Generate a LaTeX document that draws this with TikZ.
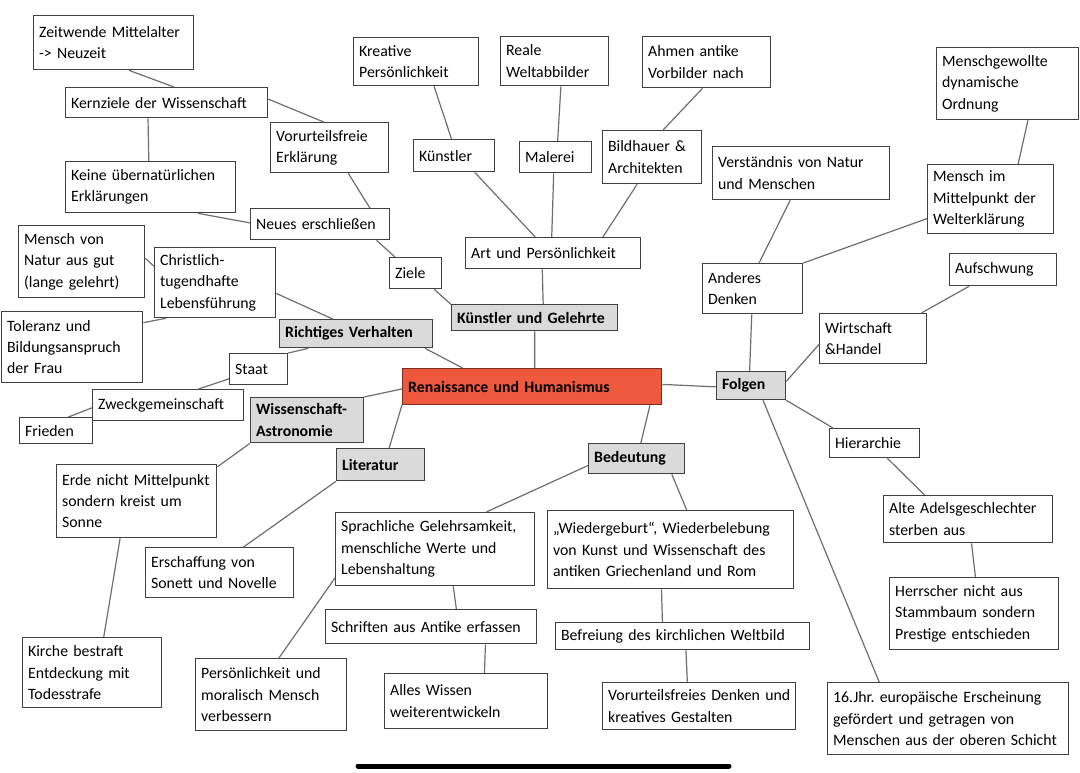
\documentclass[tikz,border=0pt]{standalone}
\usepackage{fontspec}
\setmainfont{Carlito}
\frenchspacing

\definecolor{boxline}{RGB}{64,64,64}
\definecolor{linkgray}{RGB}{110,110,110}
\definecolor{topicgray}{RGB}{218,218,218}
\definecolor{corered}{RGB}{238,88,60}
\definecolor{corerim}{RGB}{120,45,30}

\tikzset{
  idea/.style={draw=boxline, line width=1.3pt, fill=white, anchor=north west,
    inner xsep=0pt, inner ysep=0pt, font=\fontsize{15.8}{21.4}\selectfont,
    execute at begin node={\leftskip=5.5pt\hyphenpenalty=10000\frenchspacing\relax}},
  topic/.style={idea, fill=topicgray, font=\fontsize{15.8}{21.4}\selectfont\bfseries},
  core/.style={idea, fill=corered, draw=corerim, font=\fontsize{15.8}{21.4}\selectfont\bfseries},
  sz/.style 2 args={minimum width=#1pt, minimum height=#2pt, text width=#1pt},
  link/.style={draw=linkgray, line width=1.2pt}
}

\begin{document}
\begin{tikzpicture}[x=1pt,y=-1pt]

\fill[white] (0,0) rectangle (1080,772);

% Mitte
\node[core, sz={259}{36}] (renai) at (402,368) {Renaissance und Humanismus};

% Kuenstler und Gelehrte
\node[topic, sz={166}{26}] (kuenstgel) at (451,304) {Künstler und Gelehrte};
\node[idea, sz={175}{31}] (art) at (465,237) {Art und Persönlichkeit};
\node[idea, sz={81}{32}] (kuenstler) at (413,139) {Künstler};
\node[idea, sz={72}{31}] (malerei) at (519,141) {Malerei};
\node[idea, sz={99}{53}] (bildhauer) at (602,130) {Bildhauer \&\\Architekten};
\node[idea, sz={125}{48}] (kreativ) at (353,37) {Kreative\\Persönlichkeit};
\node[idea, sz={108}{49}] (reale) at (500,36) {Reale\\Weltabbilder};
\node[idea, sz={128}{51}] (ahmen) at (642,36) {Ahmen antike\\Vorbilder nach};
\node[idea, sz={52}{31}] (ziele) at (389,257) {Ziele};
\node[idea, sz={139}{31}] (neues) at (250,208) {Neues erschließen};
\node[idea, sz={118}{50}] (vorurt) at (270,122) {Vorurteilsfreie\\Erklärung};
\node[idea, sz={170}{51}] (keine) at (65,161) {Keine übernatürlichen\\Erklärungen};
\node[idea, sz={202}{30}] (kern) at (65,87) {Kernziele der Wissenschaft};
\node[idea, sz={160}{54}] (zeit) at (33,15) {Zeitwende Mittelalter\\-> Neuzeit};

% Richtiges Verhalten
\node[topic, sz={153}{28}] (richtig) at (279,319) {Richtiges Verhalten};
\node[idea, sz={121}{70}] (christ) at (154,247) {Christlich-\\tugendhafte\\Lebensführung};
\node[idea, sz={126}{72}] (natur) at (18,225) {Mensch von\\Natur aus gut\\(lange gelehrt)};
\node[idea, sz={141}{71}] (toleranz) at (1,311) {Toleranz und\\Bildungsanspruch\\der Frau};
\node[idea, sz={58}{31}] (staat) at (229,353) {Staat};
\node[idea, sz={151}{31}] (zweck) at (92,389) {Zweckgemeinschaft};
\node[idea, sz={73}{26}] (frieden) at (19,417) {Frieden};

% Wissenschaft und Literatur
\node[topic, sz={113}{45}] (wastro) at (250,397) {Wissenschaft-\\Astronomie};
\node[idea, sz={160}{73}] (erde) at (56,464) {Erde nicht Mittelpunkt\\sondern kreist um\\Sonne};
\node[idea, sz={139}{70}] (kirche) at (22,637) {Kirche bestraft\\Entdeckung mit\\Todesstrafe};
\node[topic, sz={88}{32}] (literatur) at (336,448) {Literatur};
\node[idea, sz={148}{50}] (erschaff) at (145,547) {Erschaffung von\\Sonett und Novelle};

% Bedeutung
\node[topic, sz={96}{30}] (bedeutung) at (588,443) {Bedeutung};
\node[idea, sz={199}{73}] (sprach) at (335,512) {Sprachliche Gelehrsamkeit,\\menschliche Werte und\\Lebenshaltung};
\node[idea, sz={211}{34}] (schriften) at (325,609) {Schriften aus Antike erfassen};
\node[idea, sz={163}{55}] (alles) at (384,673) {Alles Wissen\\weiterentwickeln};
\node[idea, sz={151}{72}] (persoen) at (195,658) {Persönlichkeit und\\moralisch Mensch\\verbessern};
\node[idea, sz={246}{78}] (wiedergeb) at (547,510) {„Wiedergeburt“, Wiederbelebung\\von Kunst und Wissenschaft des\\antiken Griechenland und Rom};
\node[idea, sz={254}{27}] (befreiung) at (555,622) {Befreiung des kirchlichen Weltbild};
\node[idea, sz={193}{47}] (vorurtdenk) at (602,682) {Vorurteilsfreies Denken und\\kreatives Gestalten};

% Folgen
\node[topic, sz={69}{28}] (folgen) at (716,371) {Folgen};
\node[idea, sz={100}{50}] (anderes) at (702,263) {Anderes\\Denken};
\node[idea, sz={177}{53}] (verstaend) at (712,146) {Verständnis von Natur\\und Menschen};
\node[idea, sz={126}{69}] (mittelpkt) at (927,164) {Mensch im\\Mittelpunkt der\\Welterklärung};
\node[idea, sz={142}{72}] (menschgew) at (936,47) {Menschgewollte\\dynamische\\Ordnung};
\node[idea, sz={107}{50}] (wirtsch) at (819,313) {Wirtschaft\\\&Handel};
\node[idea, sz={107}{32}] (aufschw) at (949,253) {Aufschwung};
\node[idea, sz={90}{29}] (hierarchie) at (829,428) {Hierarchie};
\node[idea, sz={169}{47}] (adel) at (883,495) {Alte Adelsgeschlechter\\sterben aus};
\node[idea, sz={169}{72}] (herrscher) at (889,577) {Herrscher nicht aus\\Stammbaum sondern\\Prestige entschieden};
\node[idea, sz={241}{72}] (jhr) at (827,682) {16.Jhr. europäische Erscheinung\\gefördert und getragen von\\Menschen aus der oberen Schicht};

% Verbindungen
\draw[link] (zeit.-61) -- (kern.65);
\draw[link] (kern.2) -- (vorurt.103);
\draw[link] (kern.-140) -- (keine.94);
\draw[link] (keine.-29) -- (neues.179);
\draw[link] (vorurt.-54) -- (neues.18);
\draw[link] (neues.-16) -- (ziele.142);
\draw[link] (ziele.-41) -- (kuenstgel.171);
\draw[link] (kreativ.-54) -- (kuenstler.99);
\draw[link] (reale.-76) -- (malerei.83);
\draw[link] (ahmen.-99) -- (bildhauer.68);
\draw[link] (kuenstler.-39) -- (art.138);
\draw[link] (malerei.-97) -- (art.95);
\draw[link] (bildhauer.-119) -- (art.18);
\draw[link] (art.-124) -- (kuenstgel.58);
\draw[link] (kuenstgel.south) -- (renai.82);

\draw[link] (natur.3) -- (christ.165);
\draw[link] (christ.-144) -- (toleranz.19);
\draw[link] (christ.-10) -- (richtig.148);
\draw[link] (richtig.-12) -- (renai.165);
\draw[link] (richtig.-163) -- (staat.north east);
\draw[link] (staat.-162) -- (zweck.28);
\draw[link] (zweck.-178) -- (frieden.48);

\draw[link] (wastro.north east) -- (renai.-179);
\draw[link] (renai.-172) -- (literatur.63);
\draw[link] (wastro.south west) -- (erde.23);
\draw[link] (erde.-114) -- (kirche.72);
\draw[link] (literatur.south west) -- (erschaff.47);

\draw[link] (renai.-9.5) -- (bedeutung.75);
\draw[link] (bedeutung.-172) -- (sprach.36);
\draw[link] (bedeutung.-24) -- (wiedergeb.68);
\draw[link] (sprach.-164) -- (persoen.78);
\draw[link] (sprach.-64) -- (schriften.35);
\draw[link] (schriften.-18) -- (alles.57);
\draw[link] (wiedergeb.-103) -- (befreiung.145);
\draw[link] (befreiung.-77) -- (vorurtdenk.116);

\draw[link] (renai.1) -- (folgen.-178);
\draw[link] (folgen.96) -- (anderes.-92);
\draw[link] (anderes.76) -- (verstaend.-112);
\draw[link] (anderes.north east) -- (mittelpkt.-163);
\draw[link] (mittelpkt.52) -- (menschgew.-61);
\draw[link] (folgen.7) -- (wirtsch.-174);
\draw[link] (wirtsch.28) -- (aufschw.-154);
\draw[link] (folgen.south east) -- (hierarchie.160);
\draw[link] (folgen.-51) -- (jhr.152);
\draw[link] (hierarchie.-50) -- (adel.151);
\draw[link] (adel.-82) -- (herrscher.88);

% Balken unten
\draw[line width=5pt, line cap=round] (358,766) -- (729,766);

\end{tikzpicture}
\end{document}
